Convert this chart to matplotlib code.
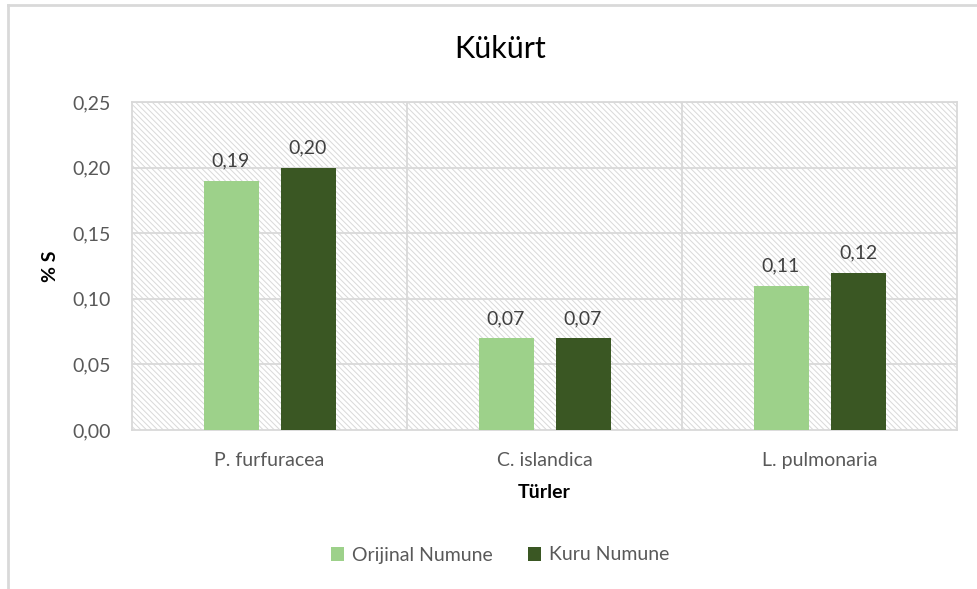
import matplotlib
matplotlib.use("Agg")
import matplotlib.pyplot as plt
import numpy as np
from matplotlib.lines import Line2D

plt.rcParams['font.family'] = ['Lato', 'DejaVu Sans']
plt.rcParams['hatch.color'] = '#d9d9d9'
plt.rcParams['hatch.linewidth'] = 0.7

categories = ["P. furfuracea", "C. islandica", "L. pulmonaria"]
orijinal = [0.19, 0.07, 0.11]
kuru = [0.20, 0.07, 0.12]
series_names = ["Orijinal Numune", "Kuru Numune"]
colors = ["#9dd18a", "#3a5723"]
yticks = [0.00, 0.05, 0.10, 0.15, 0.20, 0.25]

FS = 14

fig = plt.figure(figsize=(9.77, 5.89), dpi=100)
ax = fig.add_axes([132/977, 1-430/589, 825/977, 328/589])

x = np.arange(len(categories))
# hatched background
ax.bar([1.0], [0.25], width=3, bottom=0, color='white', hatch='\\' * 6,
       edgecolor='#d9d9d9', linewidth=0, zorder=0)

ax.set_xlim(-0.5, 2.5)
ax.set_ylim(0, 0.25)
for yt in yticks[1:]:
    ax.axhline(yt, color='#d9d9d9', lw=1.3, zorder=1)
for xv in [0.5, 1.5]:
    ax.axvline(xv, color='#d9d9d9', lw=1.3, zorder=1)

w = 0.2
off = 0.14
b1 = ax.bar(x - off, orijinal, width=w, color=colors[0], zorder=3, label=series_names[0])
b2 = ax.bar(x + off, kuru, width=w, color=colors[1], zorder=3, label=series_names[1])
for bars, vals in [(b1, orijinal), (b2, kuru)]:
    for r, v in zip(bars, vals):
        ax.annotate(f"{v:.2f}".replace('.', ','), (r.get_x() + r.get_width()/2, v),
                    xytext=(0, 8), textcoords='offset points', ha='center', va='bottom',
                    fontsize=FS, color='#404040', zorder=4)

for s in ax.spines.values():
    s.set_color('#d9d9d9')
    s.set_linewidth(1.3)
ax.tick_params(length=0, colors='#595959', labelsize=FS)
ax.tick_params(axis='x', pad=16)
ax.tick_params(axis='y', pad=15)
ax.set_yticks(yticks)
ax.set_yticklabels([f"{v:.2f}".replace('.', ',') for v in yticks])
ax.set_xticks(x)
ax.set_xticklabels(categories)

ax.set_xlabel("Türler", fontsize=FS, fontweight='bold', color='black', labelpad=11)
ax.set_ylabel("% S", fontsize=FS, fontweight='bold', color='black', labelpad=10)

fig.text(500/977, 1-49/589, "Kükürt", ha='center', va='center', fontsize=22, color='black')

leg = fig.legend(handles=[b1, b2], labels=series_names, loc='center', bbox_to_anchor=(500/977, 1-555/589),
                 ncol=2, frameon=False, fontsize=FS, handlelength=0.7, handleheight=0.7,
                 columnspacing=1.8, handletextpad=0.4)
for t in leg.get_texts():
    t.set_color('#595959')

# outer chart border
fig.add_artist(Line2D([8/977, 8/977], [0, 1-5/589], transform=fig.transFigure, color='#d9d9d9', lw=2))
fig.add_artist(Line2D([8/977, 1], [1-5/589, 1-5/589], transform=fig.transFigure, color='#d9d9d9', lw=2))

fig.savefig("out.png", dpi=100)
